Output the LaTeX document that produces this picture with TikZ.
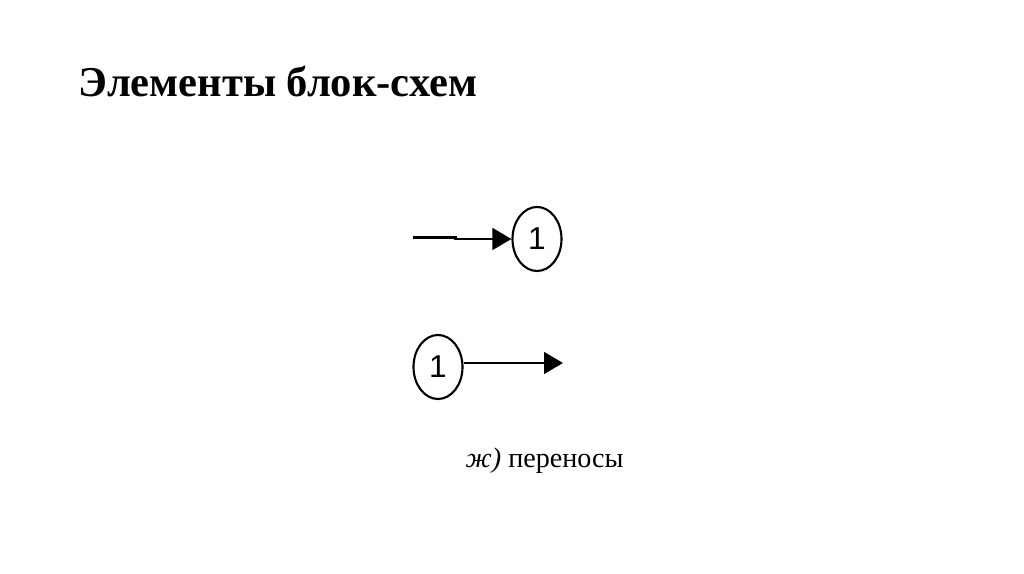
\documentclass[tikz,border=0pt]{standalone}
\usepackage{fontspec}
\setmainfont{Liberation Serif}
\newfontfamily\digitfont{Liberation Sans}
\usetikzlibrary{shapes.geometric, arrows.meta}

\begin{document}
\begin{tikzpicture}[x=0.01cm, y=-0.01cm,
    main/.style = {draw, ellipse, line width=0.6pt, inner sep=0pt,
      minimum width=0.49cm, minimum height=0.64cm, font=\digitfont\fontsize{9}{10}\selectfont},
    link/.style = {line width=0.6pt, -{Triangle[length=5.4pt, width=6.2pt]}}]
      \useasboundingbox (0,0) rectangle (1024,574);
      \node [anchor=base west, inner sep=0pt, font=\bfseries\fontsize{12.1}{14}\selectfont] (title) at (78,97) {Элементы блок-схем};

      % incoming connector
      \node [main] (in1) at (537,239) {1};
      \coordinate (from1) at (413,237.5);
      \coordinate (bend1) at (457,237.5);
      \draw [line width=0.6pt] (from1) -- (bend1);
      \draw [link] ([xshift=-0.03cm]bend1 |- in1) -- (in1);

      % outgoing connector
      \node [main] (out1) at (438,367) {1};
      \coordinate (to1) at (563,363);
      \draw [link] (out1.east |- to1) -- (to1);

      \node [anchor=base west, inner sep=0pt, font=\fontsize{8}{10}\selectfont] (cap) at (465,468) {\textit{ж)} переносы};
\end{tikzpicture}
\end{document}
